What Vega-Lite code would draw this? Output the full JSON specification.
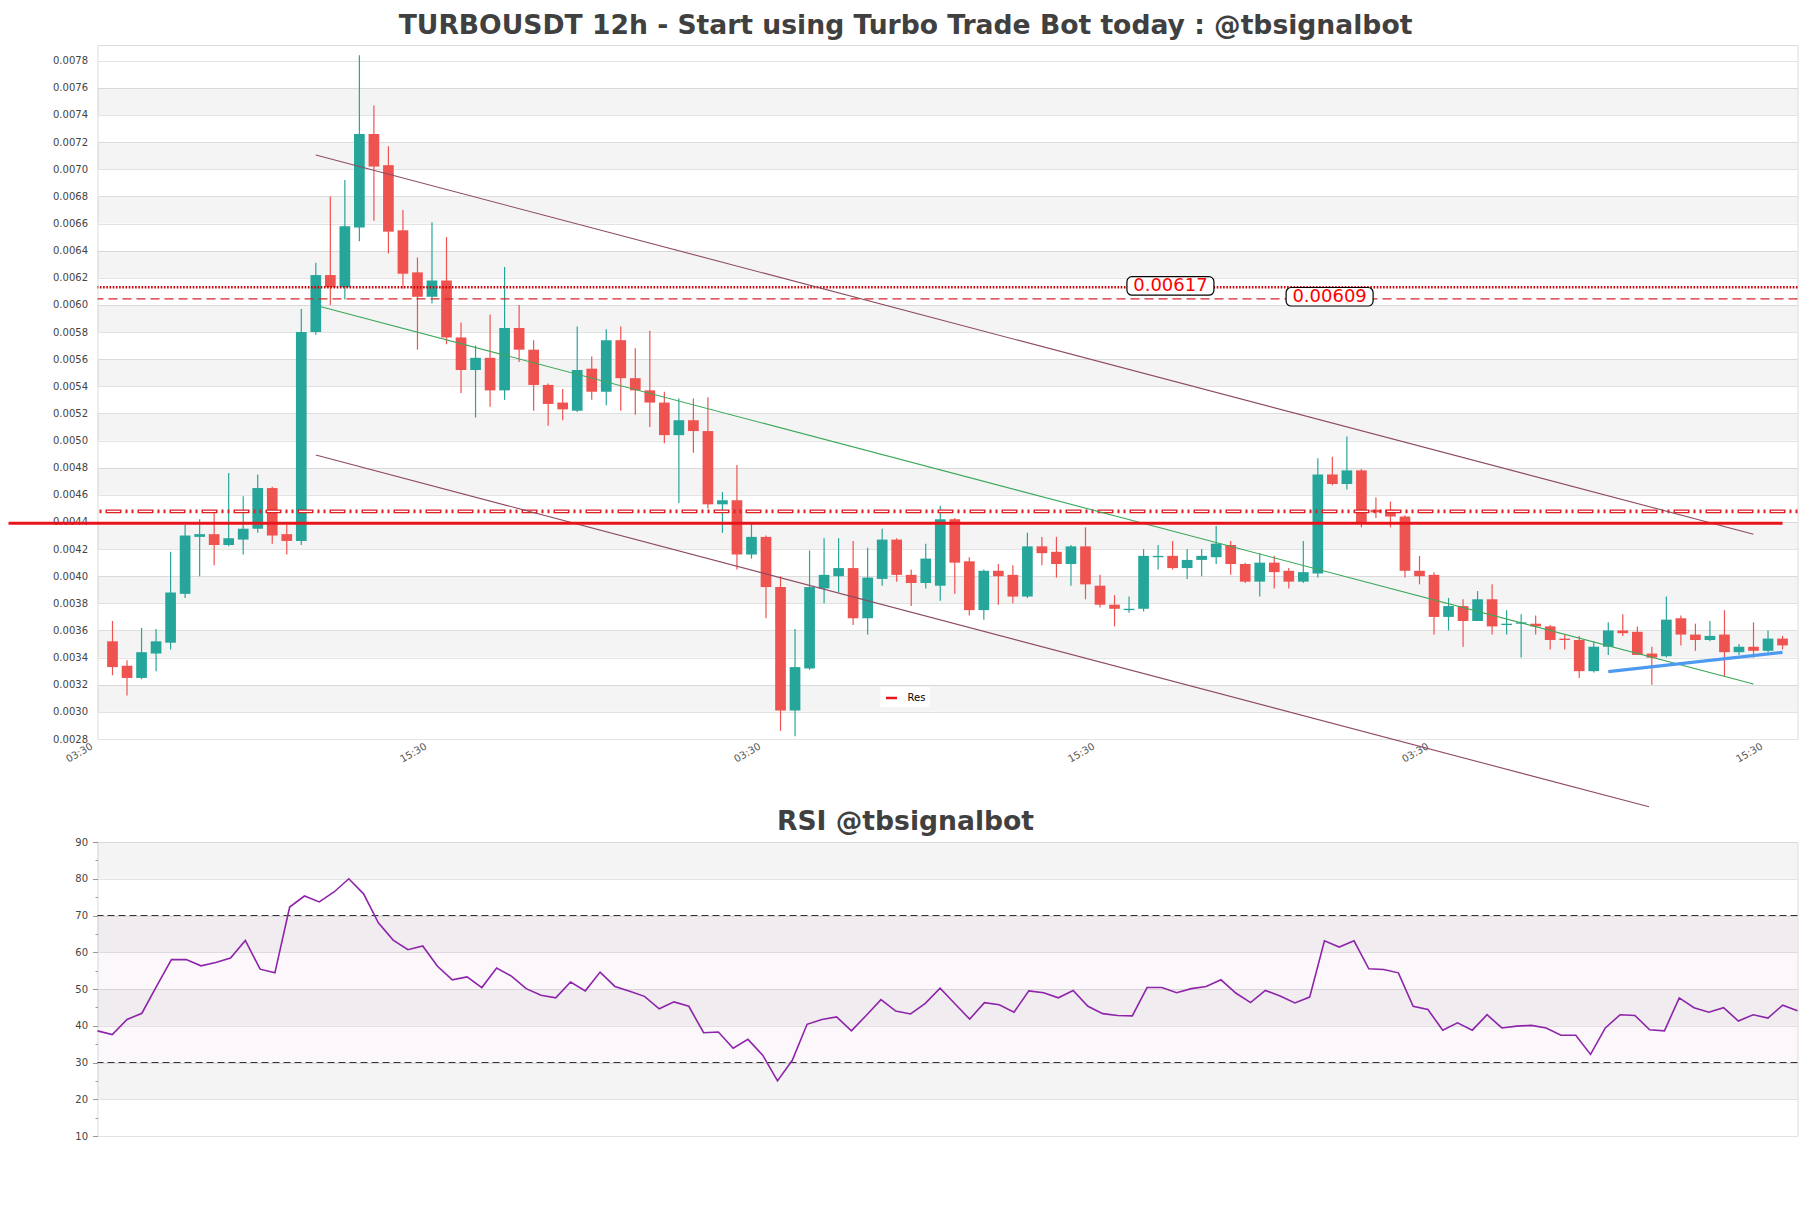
{
  "$schema": "https://vega.github.io/schema/vega-lite/v6.json",
  "background": "white",
  "padding": {"left": 6.5, "top": 12, "right": 14, "bottom": 60},
  "config": {
    "font": "DejaVu Sans",
    "view": {"stroke": "#dcdcdc", "strokeWidth": 1},
    "axis": {"labelFont": "DejaVu Sans", "labelColor": "#444444", "labelFontSize": 10, "labelOverlap": false}
  },
  "datasets": {
    "candles": [
      {"i":0,"o":0.00352,"h":0.00367,"l":0.00327,"c":0.00333,"r":38.6},
      {"i":1,"o":0.00334,"h":0.00338,"l":0.00312,"c":0.00325,"r":37.6},
      {"i":2,"o":0.00325,"h":0.00362,"l":0.00324,"c":0.00344,"r":41.7},
      {"i":3,"o":0.00343,"h":0.00361,"l":0.00330,"c":0.00352,"r":43.4},
      {"i":4,"o":0.00351,"h":0.00418,"l":0.00346,"c":0.00388,"r":50.8},
      {"i":5,"o":0.00387,"h":0.00438,"l":0.00384,"c":0.00430,"r":58.0},
      {"i":6,"o":0.00429,"h":0.00442,"l":0.00400,"c":0.00431,"r":58.0},
      {"i":7,"o":0.00431,"h":0.00449,"l":0.00408,"c":0.00423,"r":56.3},
      {"i":8,"o":0.00423,"h":0.00476,"l":0.00422,"c":0.00428,"r":57.2},
      {"i":9,"o":0.00427,"h":0.00459,"l":0.00416,"c":0.00435,"r":58.4},
      {"i":10,"o":0.00435,"h":0.00475,"l":0.00432,"c":0.00465,"r":63.2},
      {"i":11,"o":0.00465,"h":0.00466,"l":0.00424,"c":0.00430,"r":55.4},
      {"i":12,"o":0.00431,"h":0.00438,"l":0.00416,"c":0.00426,"r":54.4},
      {"i":13,"o":0.00426,"h":0.00597,"l":0.00423,"c":0.00580,"r":72.3},
      {"i":14,"o":0.00580,"h":0.00631,"l":0.00578,"c":0.00622,"r":75.3},
      {"i":15,"o":0.00622,"h":0.00680,"l":0.00600,"c":0.00613,"r":73.7},
      {"i":16,"o":0.00613,"h":0.00692,"l":0.00604,"c":0.00658,"r":76.4},
      {"i":17,"o":0.00657,"h":0.00784,"l":0.00647,"c":0.00726,"r":80.0},
      {"i":18,"o":0.00726,"h":0.00747,"l":0.00662,"c":0.00702,"r":75.9},
      {"i":19,"o":0.00703,"h":0.00717,"l":0.00638,"c":0.00654,"r":68.0},
      {"i":20,"o":0.00655,"h":0.00670,"l":0.00612,"c":0.00623,"r":63.3},
      {"i":21,"o":0.00624,"h":0.00635,"l":0.00567,"c":0.00606,"r":60.7},
      {"i":22,"o":0.00606,"h":0.00661,"l":0.00601,"c":0.00618,"r":61.7},
      {"i":23,"o":0.00618,"h":0.00650,"l":0.00571,"c":0.00576,"r":56.2},
      {"i":24,"o":0.00576,"h":0.00587,"l":0.00535,"c":0.00552,"r":52.5},
      {"i":25,"o":0.00552,"h":0.00570,"l":0.00517,"c":0.00561,"r":53.3},
      {"i":26,"o":0.00561,"h":0.00593,"l":0.00525,"c":0.00537,"r":50.4},
      {"i":27,"o":0.00537,"h":0.00628,"l":0.00530,"c":0.00583,"r":55.7},
      {"i":28,"o":0.00583,"h":0.00600,"l":0.00558,"c":0.00567,"r":53.5},
      {"i":29,"o":0.00567,"h":0.00574,"l":0.00522,"c":0.00541,"r":50.1},
      {"i":30,"o":0.00541,"h":0.00542,"l":0.00511,"c":0.00527,"r":48.3},
      {"i":31,"o":0.00528,"h":0.00538,"l":0.00515,"c":0.00523,"r":47.6},
      {"i":32,"o":0.00522,"h":0.00584,"l":0.00521,"c":0.00552,"r":51.9},
      {"i":33,"o":0.00553,"h":0.00562,"l":0.00530,"c":0.00536,"r":49.5},
      {"i":34,"o":0.00536,"h":0.00582,"l":0.00526,"c":0.00574,"r":54.6},
      {"i":35,"o":0.00574,"h":0.00584,"l":0.00522,"c":0.00546,"r":50.7},
      {"i":36,"o":0.00546,"h":0.00568,"l":0.00519,"c":0.00537,"r":49.4},
      {"i":37,"o":0.00537,"h":0.00581,"l":0.00510,"c":0.00528,"r":48.0},
      {"i":38,"o":0.00528,"h":0.00536,"l":0.00498,"c":0.00504,"r":44.6},
      {"i":39,"o":0.00504,"h":0.00531,"l":0.00454,"c":0.00515,"r":46.5},
      {"i":40,"o":0.00515,"h":0.00531,"l":0.00491,"c":0.00507,"r":45.3},
      {"i":41,"o":0.00507,"h":0.00532,"l":0.00450,"c":0.00453,"r":38.1},
      {"i":42,"o":0.00453,"h":0.00462,"l":0.00432,"c":0.00456,"r":38.3},
      {"i":43,"o":0.00456,"h":0.00482,"l":0.00405,"c":0.00416,"r":33.9},
      {"i":44,"o":0.00416,"h":0.00440,"l":0.00413,"c":0.00429,"r":36.3},
      {"i":45,"o":0.00429,"h":0.00430,"l":0.00369,"c":0.00392,"r":32.0},
      {"i":46,"o":0.00392,"h":0.00400,"l":0.00286,"c":0.00301,"r":25.0},
      {"i":47,"o":0.00301,"h":0.00361,"l":0.00282,"c":0.00333,"r":30.6},
      {"i":48,"o":0.00332,"h":0.00419,"l":0.00331,"c":0.00392,"r":40.4},
      {"i":49,"o":0.00391,"h":0.00428,"l":0.00380,"c":0.00401,"r":41.7},
      {"i":50,"o":0.00400,"h":0.00428,"l":0.00388,"c":0.00406,"r":42.4},
      {"i":51,"o":0.00406,"h":0.00426,"l":0.00364,"c":0.00369,"r":38.6},
      {"i":52,"o":0.00369,"h":0.00421,"l":0.00357,"c":0.00399,"r":42.8},
      {"i":53,"o":0.00398,"h":0.00435,"l":0.00393,"c":0.00427,"r":47.1},
      {"i":54,"o":0.00427,"h":0.00428,"l":0.00396,"c":0.00401,"r":44.0},
      {"i":55,"o":0.00401,"h":0.00405,"l":0.00378,"c":0.00395,"r":43.2},
      {"i":56,"o":0.00395,"h":0.00424,"l":0.00391,"c":0.00413,"r":46.1},
      {"i":57,"o":0.00393,"h":0.00452,"l":0.00382,"c":0.00442,"r":50.2},
      {"i":58,"o":0.00442,"h":0.00443,"l":0.00387,"c":0.00410,"r":46.0},
      {"i":59,"o":0.00411,"h":0.00414,"l":0.00371,"c":0.00375,"r":41.8},
      {"i":60,"o":0.00375,"h":0.00405,"l":0.00368,"c":0.00404,"r":46.3},
      {"i":61,"o":0.00404,"h":0.00409,"l":0.00379,"c":0.00400,"r":45.7},
      {"i":62,"o":0.00401,"h":0.00408,"l":0.00380,"c":0.00385,"r":43.7},
      {"i":63,"o":0.00385,"h":0.00432,"l":0.00384,"c":0.00422,"r":49.5},
      {"i":64,"o":0.00422,"h":0.00429,"l":0.00408,"c":0.00417,"r":49.0},
      {"i":65,"o":0.00418,"h":0.00429,"l":0.00399,"c":0.00409,"r":47.6},
      {"i":66,"o":0.00409,"h":0.00423,"l":0.00393,"c":0.00422,"r":49.6},
      {"i":67,"o":0.00422,"h":0.00436,"l":0.00383,"c":0.00394,"r":45.3},
      {"i":68,"o":0.00393,"h":0.00401,"l":0.00377,"c":0.00379,"r":43.3},
      {"i":69,"o":0.00379,"h":0.00386,"l":0.00363,"c":0.00376,"r":42.8},
      {"i":70,"o":0.00375,"h":0.00385,"l":0.00373,"c":0.00376,"r":42.7},
      {"i":71,"o":0.00376,"h":0.00420,"l":0.00374,"c":0.00415,"r":50.4},
      {"i":72,"o":0.00414,"h":0.00423,"l":0.00405,"c":0.00415,"r":50.4},
      {"i":73,"o":0.00415,"h":0.00426,"l":0.00405,"c":0.00406,"r":49.0},
      {"i":74,"o":0.00406,"h":0.00420,"l":0.00398,"c":0.00412,"r":50.1},
      {"i":75,"o":0.00412,"h":0.00420,"l":0.00400,"c":0.00415,"r":50.7},
      {"i":76,"o":0.00414,"h":0.00437,"l":0.00409,"c":0.00424,"r":52.5},
      {"i":77,"o":0.00423,"h":0.00426,"l":0.00401,"c":0.00409,"r":48.9},
      {"i":78,"o":0.00409,"h":0.00410,"l":0.00395,"c":0.00396,"r":46.3},
      {"i":79,"o":0.00396,"h":0.00417,"l":0.00385,"c":0.00410,"r":49.6},
      {"i":80,"o":0.00410,"h":0.00415,"l":0.00391,"c":0.00403,"r":48.1},
      {"i":81,"o":0.00404,"h":0.00406,"l":0.00391,"c":0.00396,"r":46.2},
      {"i":82,"o":0.00396,"h":0.00426,"l":0.00395,"c":0.00403,"r":47.8},
      {"i":83,"o":0.00402,"h":0.00487,"l":0.00399,"c":0.00475,"r":63.1},
      {"i":84,"o":0.00475,"h":0.00488,"l":0.00467,"c":0.00468,"r":61.4},
      {"i":85,"o":0.00468,"h":0.00503,"l":0.00464,"c":0.00478,"r":63.1},
      {"i":86,"o":0.00478,"h":0.00479,"l":0.00436,"c":0.00440,"r":55.5},
      {"i":87,"o":0.00449,"h":0.00458,"l":0.00443,"c":0.00447,"r":55.3},
      {"i":88,"o":0.00449,"h":0.00455,"l":0.00436,"c":0.00444,"r":54.4},
      {"i":89,"o":0.00444,"h":0.00445,"l":0.00399,"c":0.00404,"r":45.3},
      {"i":90,"o":0.00404,"h":0.00415,"l":0.00394,"c":0.00400,"r":44.4},
      {"i":91,"o":0.00401,"h":0.00403,"l":0.00357,"c":0.00370,"r":38.8},
      {"i":92,"o":0.00370,"h":0.00384,"l":0.00360,"c":0.00378,"r":40.8},
      {"i":93,"o":0.00378,"h":0.00383,"l":0.00348,"c":0.00367,"r":38.8},
      {"i":94,"o":0.00367,"h":0.00389,"l":0.00367,"c":0.00383,"r":43.0},
      {"i":95,"o":0.00383,"h":0.00394,"l":0.00357,"c":0.00363,"r":39.4},
      {"i":96,"o":0.00364,"h":0.00375,"l":0.00357,"c":0.00365,"r":39.9},
      {"i":97,"o":0.00365,"h":0.00372,"l":0.00340,"c":0.00366,"r":40.1},
      {"i":98,"o":0.00365,"h":0.00371,"l":0.00357,"c":0.00363,"r":39.4},
      {"i":99,"o":0.00363,"h":0.00364,"l":0.00346,"c":0.00353,"r":37.4},
      {"i":100,"o":0.00354,"h":0.00357,"l":0.00346,"c":0.00353,"r":37.4},
      {"i":101,"o":0.00353,"h":0.00356,"l":0.00325,"c":0.00330,"r":32.2},
      {"i":102,"o":0.00330,"h":0.00352,"l":0.00329,"c":0.00348,"r":39.4},
      {"i":103,"o":0.00348,"h":0.00366,"l":0.00342,"c":0.00360,"r":43.0},
      {"i":104,"o":0.00360,"h":0.00372,"l":0.00356,"c":0.00358,"r":42.8},
      {"i":105,"o":0.00359,"h":0.00363,"l":0.00342,"c":0.00342,"r":38.9},
      {"i":106,"o":0.00343,"h":0.00348,"l":0.00320,"c":0.00340,"r":38.6},
      {"i":107,"o":0.00341,"h":0.00385,"l":0.00340,"c":0.00368,"r":47.6},
      {"i":108,"o":0.00369,"h":0.00371,"l":0.00349,"c":0.00357,"r":44.9},
      {"i":109,"o":0.00357,"h":0.00365,"l":0.00345,"c":0.00353,"r":43.7},
      {"i":110,"o":0.00353,"h":0.00367,"l":0.00352,"c":0.00356,"r":44.9},
      {"i":111,"o":0.00357,"h":0.00375,"l":0.00326,"c":0.00344,"r":41.3},
      {"i":112,"o":0.00344,"h":0.00350,"l":0.00342,"c":0.00348,"r":43.0},
      {"i":113,"o":0.00348,"h":0.00366,"l":0.00340,"c":0.00345,"r":42.1},
      {"i":114,"o":0.00345,"h":0.00360,"l":0.00344,"c":0.00354,"r":45.6},
      {"i":115,"o":0.00354,"h":0.00356,"l":0.00346,"c":0.00349,"r":44.1}
    ],
    "pbands": [
      {"lo":0.0030,"hi":0.0032},{"lo":0.0034,"hi":0.0036},{"lo":0.0038,"hi":0.0040},
      {"lo":0.0042,"hi":0.0044},{"lo":0.0046,"hi":0.0048},{"lo":0.0050,"hi":0.0052},
      {"lo":0.0054,"hi":0.0056},{"lo":0.0058,"hi":0.0060},{"lo":0.0062,"hi":0.0064},
      {"lo":0.0066,"hi":0.0068},{"lo":0.0070,"hi":0.0072},{"lo":0.0074,"hi":0.0076}
    ],
    "rbands": [
      {"lo":20,"hi":30},{"lo":40,"hi":50},{"lo":60,"hi":70},{"lo":80,"hi":90}
    ],
    "channel": [
      {"line":"upper","x":14,"p":0.007105},
      {"line":"upper","x":113,"p":0.00431},
      {"line":"lower","x":14,"p":0.004893},
      {"line":"lower","x":105.8,"p":0.0023}
    ],
    "midline": [
      {"x":14.36,"p":0.005986},
      {"x":113,"p":0.003205}
    ],
    "support": [
      {"x":103,"p":0.003297},
      {"x":115,"p":0.003439}
    ],
    "res": [
      {"name":"Res","x1":-7.16,"x2":115,"p":0.00439}
    ],
    "labels": [
      {"label":"0.00617","i":72.85,"p":0.00614},
      {"label":"0.00609","i":83.81,"p":0.00606}
    ]
  },
  "spacing": 103,
  "bounds": "flush",
  "vconcat": [
    {
      "width": 1700,
      "height": 694,
      "title": {
        "text": "TURBOUSDT 12h - Start using Turbo Trade Bot today : @tbsignalbot",
        "font": "DejaVu Sans", "fontSize": 26.6, "fontWeight": "bold", "color": "#404040",
        "anchor": "middle", "frame": "group", "dx": -42, "offset": -16, "baseline": "alphabetic"
      },
      "layer": [
        {
          "data": {"name": "pbands"},
          "mark": {"type": "rect", "fill": "#000000", "fillOpacity": 0.045},
          "encoding": {
            "y": {
              "field": "lo", "type": "quantitative", "title": null,
              "scale": {"domain": [0.0028, 0.007916], "nice": false, "zero": false, "padding": 0},
              "axis": {
                "values": [0.0028,0.0030,0.0032,0.0034,0.0036,0.0038,0.0040,0.0042,0.0044,0.0046,0.0048,0.0050,0.0052,0.0054,0.0056,0.0058,0.0060,0.0062,0.0064,0.0066,0.0068,0.0070,0.0072,0.0074,0.0076,0.0078],
                "tickCount": 100,
                "format": ".4f", "ticks": false, "domain": false, "labelPadding": 10,
                "labelOverlap": false,
                "grid": true, "gridColor": "#e3e3e3", "title": null
              }
            },
            "y2": {"field": "hi"}
          }
        },
        {
          "data": {"name": "candles"},
          "mark": {"type": "rule", "strokeWidth": 1.2},
          "encoding": {
            "x": {
              "field": "i", "type": "quantitative", "title": null,
              "scale": {"domain": [-1.033, 116.03], "nice": false, "zero": false, "padding": 0},
              "axis": {
                "values": [-1, 22, 45, 68, 91, 114],
                "tickCount": 100,
                "labelExpr": "(datum.value + 1) % 46 == 0 ? '03:30' : '15:30'",
                "labelAngle": -30, "labelAlign": "right", "labelBaseline": "top",
                "labelPadding": 2, "labelOffset": -9, "labelColor": "#555555", "labelOverlap": false,
                "labelFlush": false, "ticks": false, "domain": false, "grid": false, "title": null
              }
            },
            "y": {"field": "l", "type": "quantitative", "title": null},
            "y2": {"field": "h"},
            "color": {"condition": {"test": "datum.c > datum.o", "value": "#26a69a"}, "value": "#ef5350"}
          }
        },
        {
          "data": {"name": "candles"},
          "mark": {"type": "bar", "width": 10.7},
          "encoding": {
            "x": {"field": "i", "type": "quantitative", "title": null},
            "y": {"field": "o", "type": "quantitative", "title": null},
            "y2": {"field": "c"},
            "color": {"condition": {"test": "datum.c > datum.o", "value": "#26a69a"}, "value": "#ef5350"}
          }
        },
        {
          "data": {"values": [{"p": 0.00613}]},
          "mark": {"type": "rule", "color": "#cc0000", "strokeWidth": 2.6, "strokeDash": [1.6, 1.6]},
          "encoding": {"y": {"field": "p", "type": "quantitative", "title": null}}
        },
        {
          "data": {"values": [{"p": 0.006045}]},
          "mark": {"type": "rule", "color": "#d62728", "strokeWidth": 1.3, "strokeDash": [9, 5]},
          "encoding": {"y": {"field": "p", "type": "quantitative", "title": null}}
        },
        {
          "data": {"values": [{"p": 0.004478}]},
          "mark": {"type": "rule", "color": "#e02020", "strokeWidth": 3.6, "strokeDash": [2, 4, 2, 4, 16, 4]},
          "encoding": {"y": {"field": "p", "type": "quantitative", "title": null}}
        },
        {
          "data": {"values": [{"p": 0.004478}]},
          "mark": {"type": "rule", "color": "white", "strokeWidth": 1.3, "strokeDash": [0.01, 13.49, 13, 5.5]},
          "encoding": {"y": {"field": "p", "type": "quantitative", "title": null}}
        },
        {
          "data": {"name": "channel"},
          "mark": {"type": "line", "color": "#8e4b62", "strokeWidth": 1.1, "clip": false},
          "encoding": {
            "x": {"field": "x", "type": "quantitative", "title": null},
            "y": {"field": "p", "type": "quantitative", "title": null},
            "detail": {"field": "line"}
          }
        },
        {
          "data": {"name": "midline"},
          "mark": {"type": "line", "color": "#3ca85a", "strokeWidth": 1.1, "clip": false},
          "encoding": {
            "x": {"field": "x", "type": "quantitative", "title": null},
            "y": {"field": "p", "type": "quantitative", "title": null}
          }
        },
        {
          "data": {"name": "res"},
          "mark": {"type": "rule", "strokeWidth": 3, "clip": false},
          "encoding": {
            "x": {"field": "x1", "type": "quantitative", "title": null},
            "x2": {"field": "x2"},
            "y": {"field": "p", "type": "quantitative", "title": null},
            "color": {
              "field": "name", "type": "nominal",
              "scale": {"domain": ["Res"], "range": ["#e8141c"]},
              "legend": {
                "orient": "none", "legendX": 783, "legendY": 642, "title": null,
                "symbolType": "stroke", "symbolStrokeWidth": 2.5, "symbolSize": 121,
                "labelFontSize": 10, "labelColor": "#000000", "labelOffset": 9,
                "fillColor": "white", "padding": 4
              }
            }
          }
        },
        {
          "data": {"name": "support"},
          "mark": {"type": "line", "color": "#4d9bf0", "strokeWidth": 3.2, "clip": false},
          "encoding": {
            "x": {"field": "x", "type": "quantitative", "title": null},
            "y": {"field": "p", "type": "quantitative", "title": null}
          }
        },
        {
          "data": {"name": "labels"},
          "mark": {"type": "rect", "width": 87, "height": 18.5, "fill": "white", "stroke": "black", "strokeWidth": 1.2, "cornerRadius": 5},
          "encoding": {
            "x": {"field": "i", "type": "quantitative", "title": null},
            "y": {"field": "p", "type": "quantitative", "title": null}
          }
        },
        {
          "data": {"name": "labels"},
          "mark": {"type": "text", "color": "#ff0000", "fontSize": 18, "font": "DejaVu Sans", "align": "center", "baseline": "middle"},
          "encoding": {
            "x": {"field": "i", "type": "quantitative", "title": null},
            "y": {"field": "p", "type": "quantitative", "title": null},
            "text": {"field": "label"}
          }
        }
      ]
    },
    {
      "width": 1700,
      "height": 294,
      "title": {
        "text": "RSI @tbsignalbot",
        "font": "DejaVu Sans", "fontSize": 26.6, "fontWeight": "bold", "color": "#404040",
        "anchor": "middle", "frame": "group", "dx": -42, "offset": -20, "baseline": "alphabetic"
      },
      "layer": [
        {
          "data": {"name": "rbands"},
          "mark": {"type": "rect", "fill": "#000000", "fillOpacity": 0.045},
          "encoding": {
            "y": {
              "field": "lo", "type": "quantitative", "title": null,
              "scale": {"domain": [10, 90], "nice": false, "zero": false, "padding": 0},
              "axis": {
                "values": [10,15,20,25,30,35,40,45,50,55,60,65,70,75,80,85,90],
                "tickCount": 100,
                "labelExpr": "datum.value % 10 === 0 ? datum.label : ''",
                "format": "d",
                "labelOverlap": false,
                "tickSize": {"condition": {"test": "datum.value % 10 === 0", "value": 5}, "value": 2.5},
                "tickColor": "#999999",
                "gridOpacity": {"condition": {"test": "datum.value % 10 === 0", "value": 1}, "value": 0},
                "labelPadding": 5, "domain": false, "grid": true, "gridColor": "#e3e3e3", "title": null
              }
            },
            "y2": {"field": "hi"}
          }
        },
        {
          "data": {"values": [{"lo": 30, "hi": 70}]},
          "mark": {"type": "rect", "fill": "#c89ad0", "fillOpacity": 0.08},
          "encoding": {
            "y": {"field": "lo", "type": "quantitative", "title": null},
            "y2": {"field": "hi"}
          }
        },
        {
          "data": {"values": [{"v": 70}, {"v": 30}]},
          "mark": {"type": "rule", "color": "#333333", "strokeWidth": 1.2, "strokeDash": [7, 4]},
          "encoding": {"y": {"field": "v", "type": "quantitative", "title": null}}
        },
        {
          "data": {"name": "candles"},
          "mark": {"type": "line", "color": "#8e24aa", "strokeWidth": 1.6},
          "encoding": {
            "x": {"field": "i", "type": "quantitative", "title": null, "scale": {"domain": [0, 115], "nice": false, "zero": false, "padding": 0}, "axis": null},
            "y": {"field": "r", "type": "quantitative", "title": null}
          }
        }
      ]
    }
  ]
}
